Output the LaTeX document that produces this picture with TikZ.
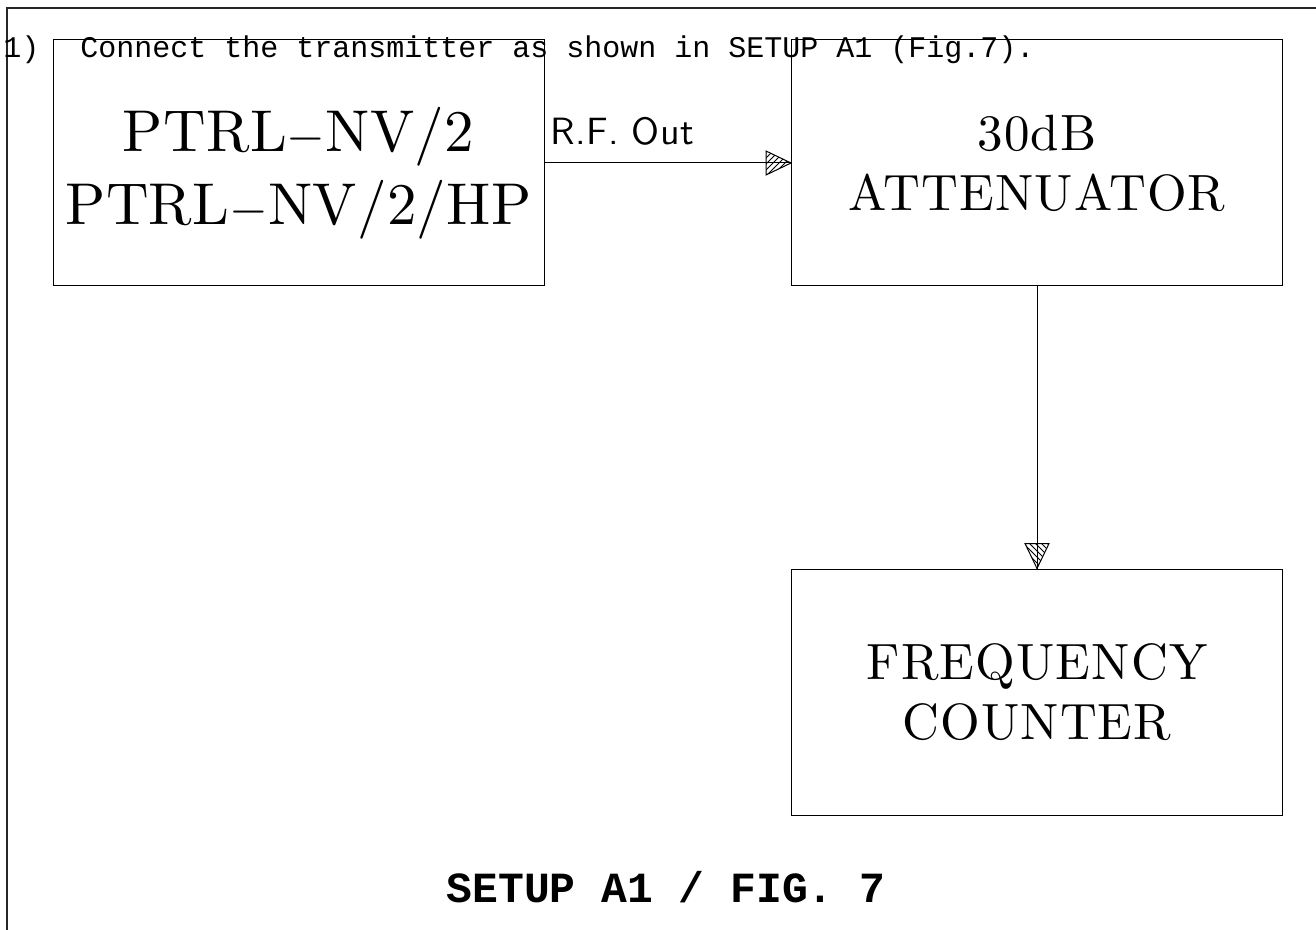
\documentclass[tikz,border=0pt]{standalone}
\usepackage{fontspec}
\setmonofont{Liberation Mono}
\newfontfamily\ptrlfont{lmroman10-regular.otf}[LetterSpace=0.5]
\newfontfamily\unitfont{lmroman10-regular.otf}[LetterSpace=2.2]
\newfontfamily\rffont{lmsans10-regular.otf}[LetterSpace=1]
\usetikzlibrary{patterns}

\begin{document}
\begin{tikzpicture}[
x=0.5pt,y=-0.5pt,
unit/.style={rectangle,draw=black,line width=0.5pt,inner sep=0pt,minimum width=245.5pt,minimum height=123pt,align=center},
link/.style={draw=black,line width=0.5pt},
hatchtip/.style={draw=black,line width=0.5pt,pattern=#1},
frame/.style={draw=black!85,line width=1pt},
note/.style={inner sep=0pt,anchor=base west,font=\fontsize{15}{18}\ttfamily}
]

\useasboundingbox (0,0) rectangle (1316,930);

% Draw frame (top and left edge only)
\draw [frame] (7,930) -- (7,8) -- (1316,8);

% Draw units
\node [unit,font=\fontsize{29.5}{36.5}\ptrlfont] (ptrl) at (298.5,163)
  {\rule{0pt}{32pt}PTRL$-$NV/2\\PTRL$-$NV/2/HP};
\node [unit,font=\fontsize{25.5}{30}\unitfont] (att) at (1037,163) {30dB\\ATTENUATOR};
\node [unit,font=\fontsize{25.5}{30}\unitfont] (cnt) at (1037,692) {FREQUENCY\\COUNTER};

% Instruction line
\node [note] (num) at (3,58) {1)};
\node [note] (instr) at (80,58) {Connect the transmitter as shown in SETUP A1 (Fig.7).};

% Draw connectors
\draw [link] (ptrl.east) -- (att.west);
\draw [hatchtip=north east lines] (att.west) -- ++(-25,-12) -- ++(0,24) -- cycle;
\node [inner sep=0pt,anchor=base west,font=\fontsize{19}{20}\rffont] (rfout) at (550,145) {R.F. Out};

\draw [link] (att.south) -- (cnt.north);
\draw [hatchtip=north west lines] (cnt.north) -- ++(-12,-25) -- ++(24,0) -- cycle;

% Caption
\node [inner sep=0pt,anchor=base,font=\fontsize{21.5}{24}\ttfamily\bfseries] (caption) at (666,902) {SETUP A1 / FIG. 7};

\end{tikzpicture}
\end{document}
